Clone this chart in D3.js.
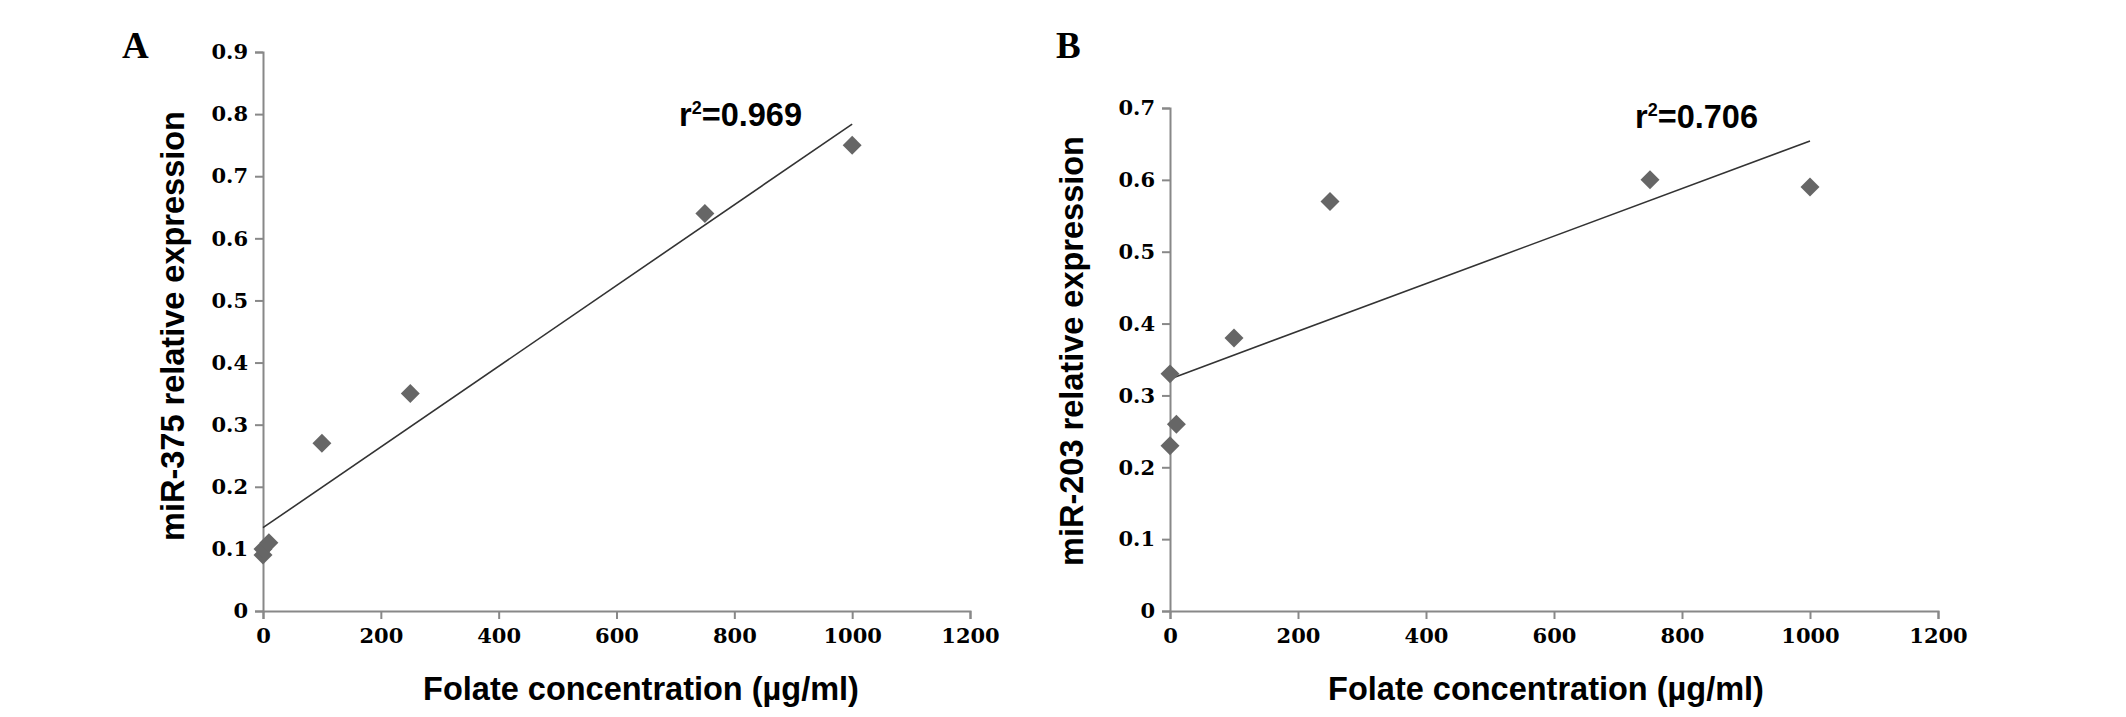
<!DOCTYPE html>
<html>
<head>
<meta charset="utf-8">
<script src="https://cdn.jsdelivr.net/npm/d3@7"></script>
<style>
  body { margin: 0; background: #fff; }
  .tick text { font-family: "DejaVu Serif", serif; font-weight: bold; font-size: 21px; fill: #000; }
  .domain, .tick line { stroke: #888; stroke-width: 2; }
  .title { font-family: "Liberation Sans", Arial, sans-serif; font-weight: bold; font-size: 32.5px; fill: #000; }
  .panel { font-family: "Liberation Serif", serif; font-weight: bold; font-size: 37px; }
</style>
</head>
<body>
<script>
'use strict';

// folate concentration (µg/ml), same for both panels
let folate = [0, 0, 10, 100, 250, 750, 1000];
// relative expression
let mir375 = [0.09, 0.10, 0.11, 0.27, 0.35, 0.64, 0.75];
let mir203 = [0.23, 0.33, 0.26, 0.38, 0.57, 0.60, 0.59];

let xTicks = [0, 200, 400, 600, 800, 1000, 1200];
let yTicksA = [0, 0.1, 0.2, 0.3, 0.4, 0.5, 0.6, 0.7, 0.8, 0.9];
let yTicksB = [0, 0.1, 0.2, 0.3, 0.4, 0.5, 0.6, 0.7];

let svgWidth = 2126, svgHeight = 717;

let svg = d3.select('body').append('svg')
  .attr('width', svgWidth)
  .attr('height', svgHeight);

// least squares fit, used for the trend line and r2
function fit(xs, ys) {
  let mx = d3.mean(xs), my = d3.mean(ys);
  let sxy = d3.sum(xs, (x, i) => (x - mx) * (ys[i] - my));
  let sxx = d3.sum(xs, x => (x - mx) * (x - mx));
  let syy = d3.sum(ys, y => (y - my) * (y - my));
  let slope = sxy / sxx;
  return { slope: slope, icept: my - slope * mx, r2: sxy * sxy / (sxx * syy) };
}

function panel(opt) {
  let data = folate.map((x, i) => [x, opt.values[i]]);

  let xScale = d3.scaleLinear().domain([0, 1200]).range([opt.x0, opt.x1]);
  let yScale = d3.scaleLinear().domain([0, opt.yMax]).range([611, opt.yTop]);

  let g = svg.append('g');

  g.append('g')
    .attr('transform', `translate(0,${yScale(0)})`)
    .call(d3.axisBottom(xScale).tickValues(xTicks).tickSize(8).tickPadding(9).tickFormat(d3.format('d')));

  g.append('g')
    .attr('transform', `translate(${xScale(0)},0)`)
    .call(d3.axisLeft(yScale).tickValues(opt.yTicks).tickSize(8).tickPadding(7)
      .tickFormat(d => d === 0 ? '0' : d3.format('.1f')(d)));

  // trend line from 0 to the last concentration
  let f = fit(folate, opt.values);
  let lineGen = d3.line().x(d => xScale(d)).y(d => yScale(f.icept + f.slope * d));
  g.append('path').datum([0, d3.max(folate)])
    .attr('fill', 'none').attr('stroke', '#333').attr('stroke-width', 1.6)
    .attr('d', lineGen);

  // diamonds
  g.selectAll('path.pt').data(data).enter().append('path')
    .attr('class', 'pt')
    .attr('d', d3.symbol(d3.symbolSquare, 180))
    .attr('transform', d => `translate(${xScale(d[0])},${yScale(d[1])}) rotate(45)`)
    .attr('fill', '#666');

  // r2 label
  let r2 = g.append('text').attr('class', 'title')
    .attr('x', opt.r2x).attr('y', opt.r2y);
  r2.append('tspan').text('r');
  r2.append('tspan').attr('font-size', 18).attr('dy', -12).text('2');
  r2.append('tspan').attr('dy', 12).text('=' + f.r2.toFixed(3));

  g.append('text').attr('class', 'title')
    .attr('x', opt.xLabX).attr('y', 700)
    .attr('text-anchor', 'middle')
    .text('Folate concentration (µg/ml)');

  g.append('text').attr('class', 'title')
    .attr('transform', `translate(${opt.yLabX},${opt.yLabY}) rotate(-90)`)
    .attr('text-anchor', 'middle')
    .text(opt.yLabel);

  g.append('text').attr('class', 'panel')
    .attr('x', opt.px).attr('y', 58)
    .text(opt.letter);
}

panel({ values: mir375, yMax: 0.9, yTicks: yTicksA, x0: 263, x1: 970, yTop: 52,
  r2x: 679, r2y: 126, xLabX: 641, yLabel: 'miR-375 relative expression', yLabX: 184, yLabY: 326,
  letter: 'A', px: 122 });

panel({ values: mir203, yMax: 0.7, yTicks: yTicksB, x0: 1170, x1: 1938, yTop: 108,
  r2x: 1635, r2y: 128, xLabX: 1546, yLabel: 'miR-203 relative expression', yLabX: 1083, yLabY: 351,
  letter: 'B', px: 1056 });
</script>
</body>
</html>
